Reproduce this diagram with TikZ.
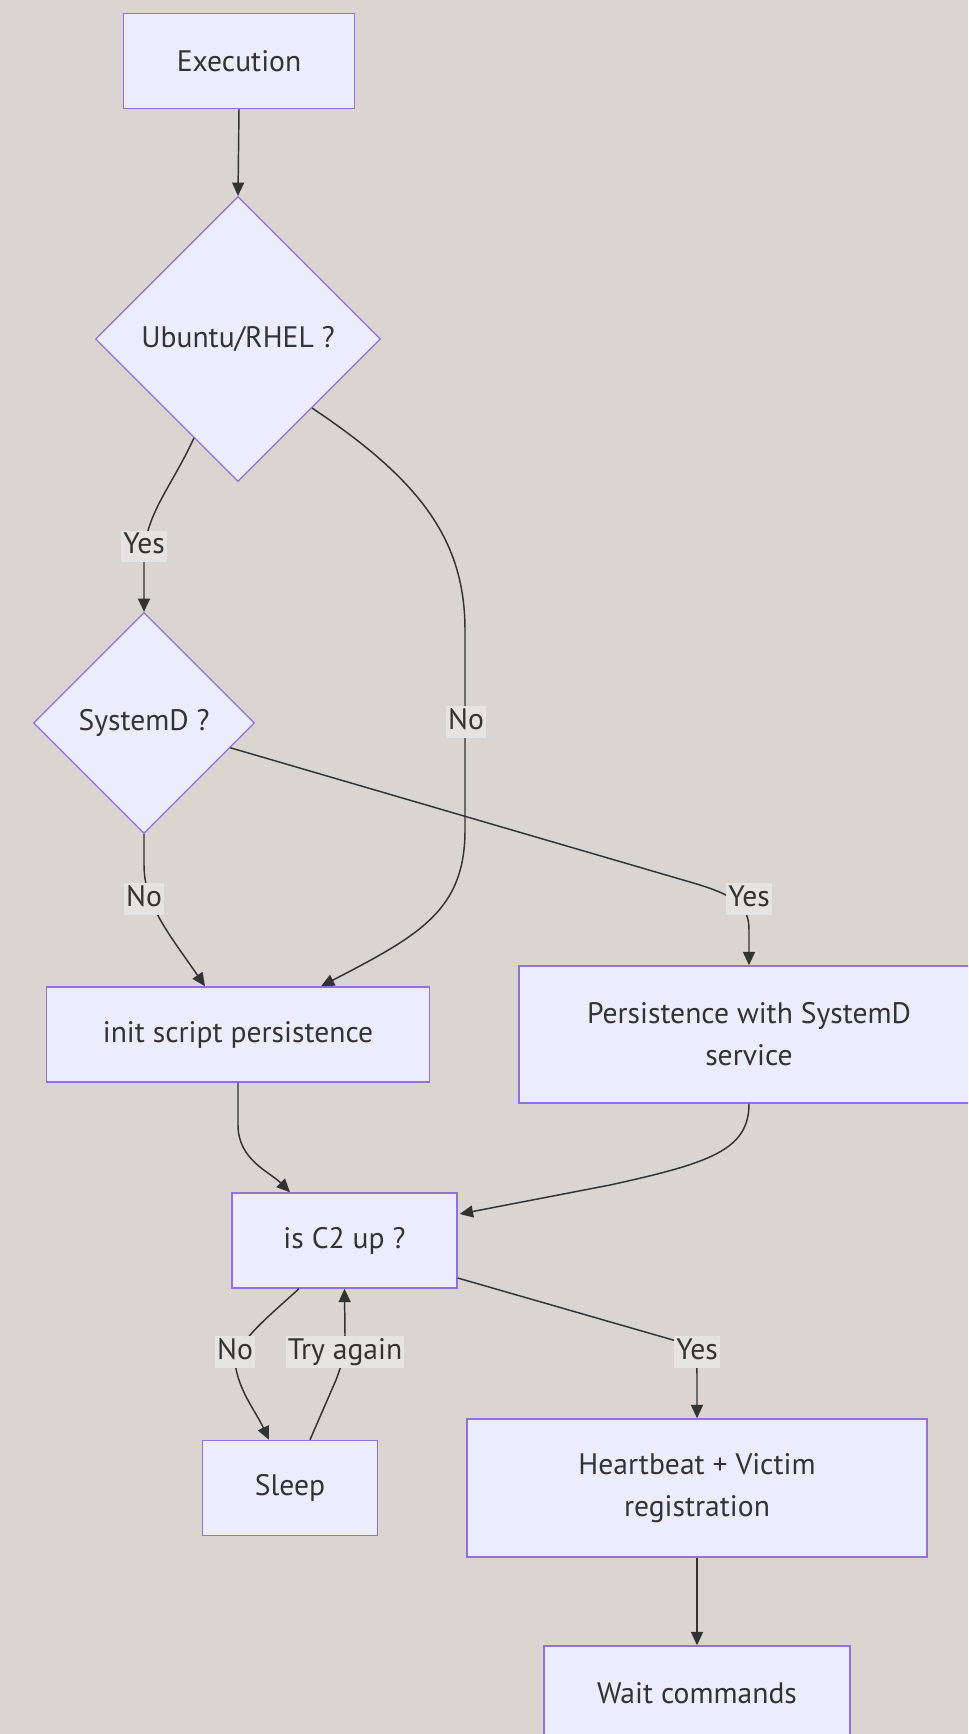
\documentclass[tikz,border=0pt]{standalone}
\usepackage{fontspec}
\setmainfont{PT Sans}
\usetikzlibrary{shapes.geometric,arrows.meta,calc}
\definecolor{bgc}{HTML}{DAD5D0}
\definecolor{nodefill}{HTML}{ECECFF}
\definecolor{nodedraw}{HTML}{9370DB}
\definecolor{txt}{HTML}{333333}
\definecolor{lblfill}{HTML}{E6E4E2}
\tikzset{
  x=0.75pt, y=-0.75pt,
  every node/.style={text=txt, font=\fontsize{22.2}{31.5}\selectfont},
  box/.style={draw=nodedraw, fill=nodefill, line width=1.1pt, rectangle, align=center, inner sep=0pt, minimum height=71.25pt},
  decision/.style={draw=nodedraw, fill=nodefill, line width=0.9pt, diamond, aspect=1, inner sep=0pt, align=center},
  edge/.style={draw=txt, line width=1.1pt, -{Triangle[length=10pt,width=9pt]}},
  lbl/.style={fill=lblfill, inner sep=1.5pt, text height=15.5pt, text depth=5pt}
}
\begin{document}
\begin{tikzpicture}
\useasboundingbox (0,0) rectangle (968,1734);
\fill[bgc] (0,0) rectangle (968,1734);
\clip (0,0) rectangle (968,1734);

% nodes
\node[box, minimum width=173.25pt] (exec) at (239,61) {Execution};
\node[decision, minimum width=213.75pt, minimum height=213.75pt] (ub) at (238,339) {Ubuntu/RHEL ?};
\node[decision, minimum width=165.75pt, minimum height=165.75pt] (sd) at (144,723) {SystemD ?};
\node[box, minimum width=287pt] (init) at (238,1034.5) {init script persistence};
\node[box, minimum width=345pt, minimum height=102.75pt] (pers) at (749,1034.5) {Persistence with SystemD\\service};
\node[box, minimum width=168.75pt] (c2) at (344.5,1240.5) {is C2 up ?};
\node[box, minimum width=131pt] (sleep) at (290,1488) {Sleep};
\node[box, minimum width=345pt, minimum height=103.5pt] (hb) at (697,1488) {Heartbeat + Victim\\registration};
\node[box, minimum width=229.5pt] (wait) at (697,1693.5) {Wait commands};

% edges
\draw[edge] (exec.south) -- (ub.north);

\draw[edge] (ub.246) .. controls (170,490) and (144,515) .. (144,560) -- (sd.north);

\draw[edge] (ub.-43) .. controls (420,480) and (465,540) .. (465,630)
   -- (465,830) .. controls (465,910) and (420,935) .. ($(init.north)+(83,0)$);

\draw[edge] (sd.south) -- (144,865) .. controls (144,905) and (170,935) .. ($(init.north)+(-33,0)$);

\draw[edge] (sd.-16) -- (690,882) .. controls (735,895) and (749,905) .. (749,930) -- (pers.north);

\draw[edge] (init.south) -- (238,1125) .. controls (238,1160) and (270,1172) .. ($(c2.north)+(-54.5,0)$);

\draw[edge] (pers.south) .. controls (749,1150) and (710,1163) .. (610,1185) -- ($(c2.east)+(2,-26.5)$);

\draw[edge] ($(c2.south)+(-45.5,0)$) .. controls (262,1322) and (240,1340) .. (235,1362)
   .. controls (238,1390) and (255,1410) .. ($(sleep.north)+(-21,0)$);

\draw[edge] ($(sleep.north)+(20,0)$) -- (336,1380) .. controls (344,1358) .. (345,1335) -- (c2.south);

\draw[edge] ($(c2.east)+(0,37.5)$) -- (680,1342) .. controls (692,1348) and (697,1355) .. (697,1375) -- (hb.north);

\draw[edge] (hb.south) -- (wait.north);

% edge labels
\node[lbl] (lyes1) at (144,546.5) {Yes};
\node[lbl] (lno1) at (466,722) {No};
\node[lbl] (lno2) at (144,899) {No};
\node[lbl] (lyes2) at (749,899) {Yes};
\node[lbl] (lno3) at (235,1352) {No};
\node[lbl] (ltry) at (345,1352) {Try again};
\node[lbl] (lyes3) at (697,1352) {Yes};
\end{tikzpicture}
\end{document}
